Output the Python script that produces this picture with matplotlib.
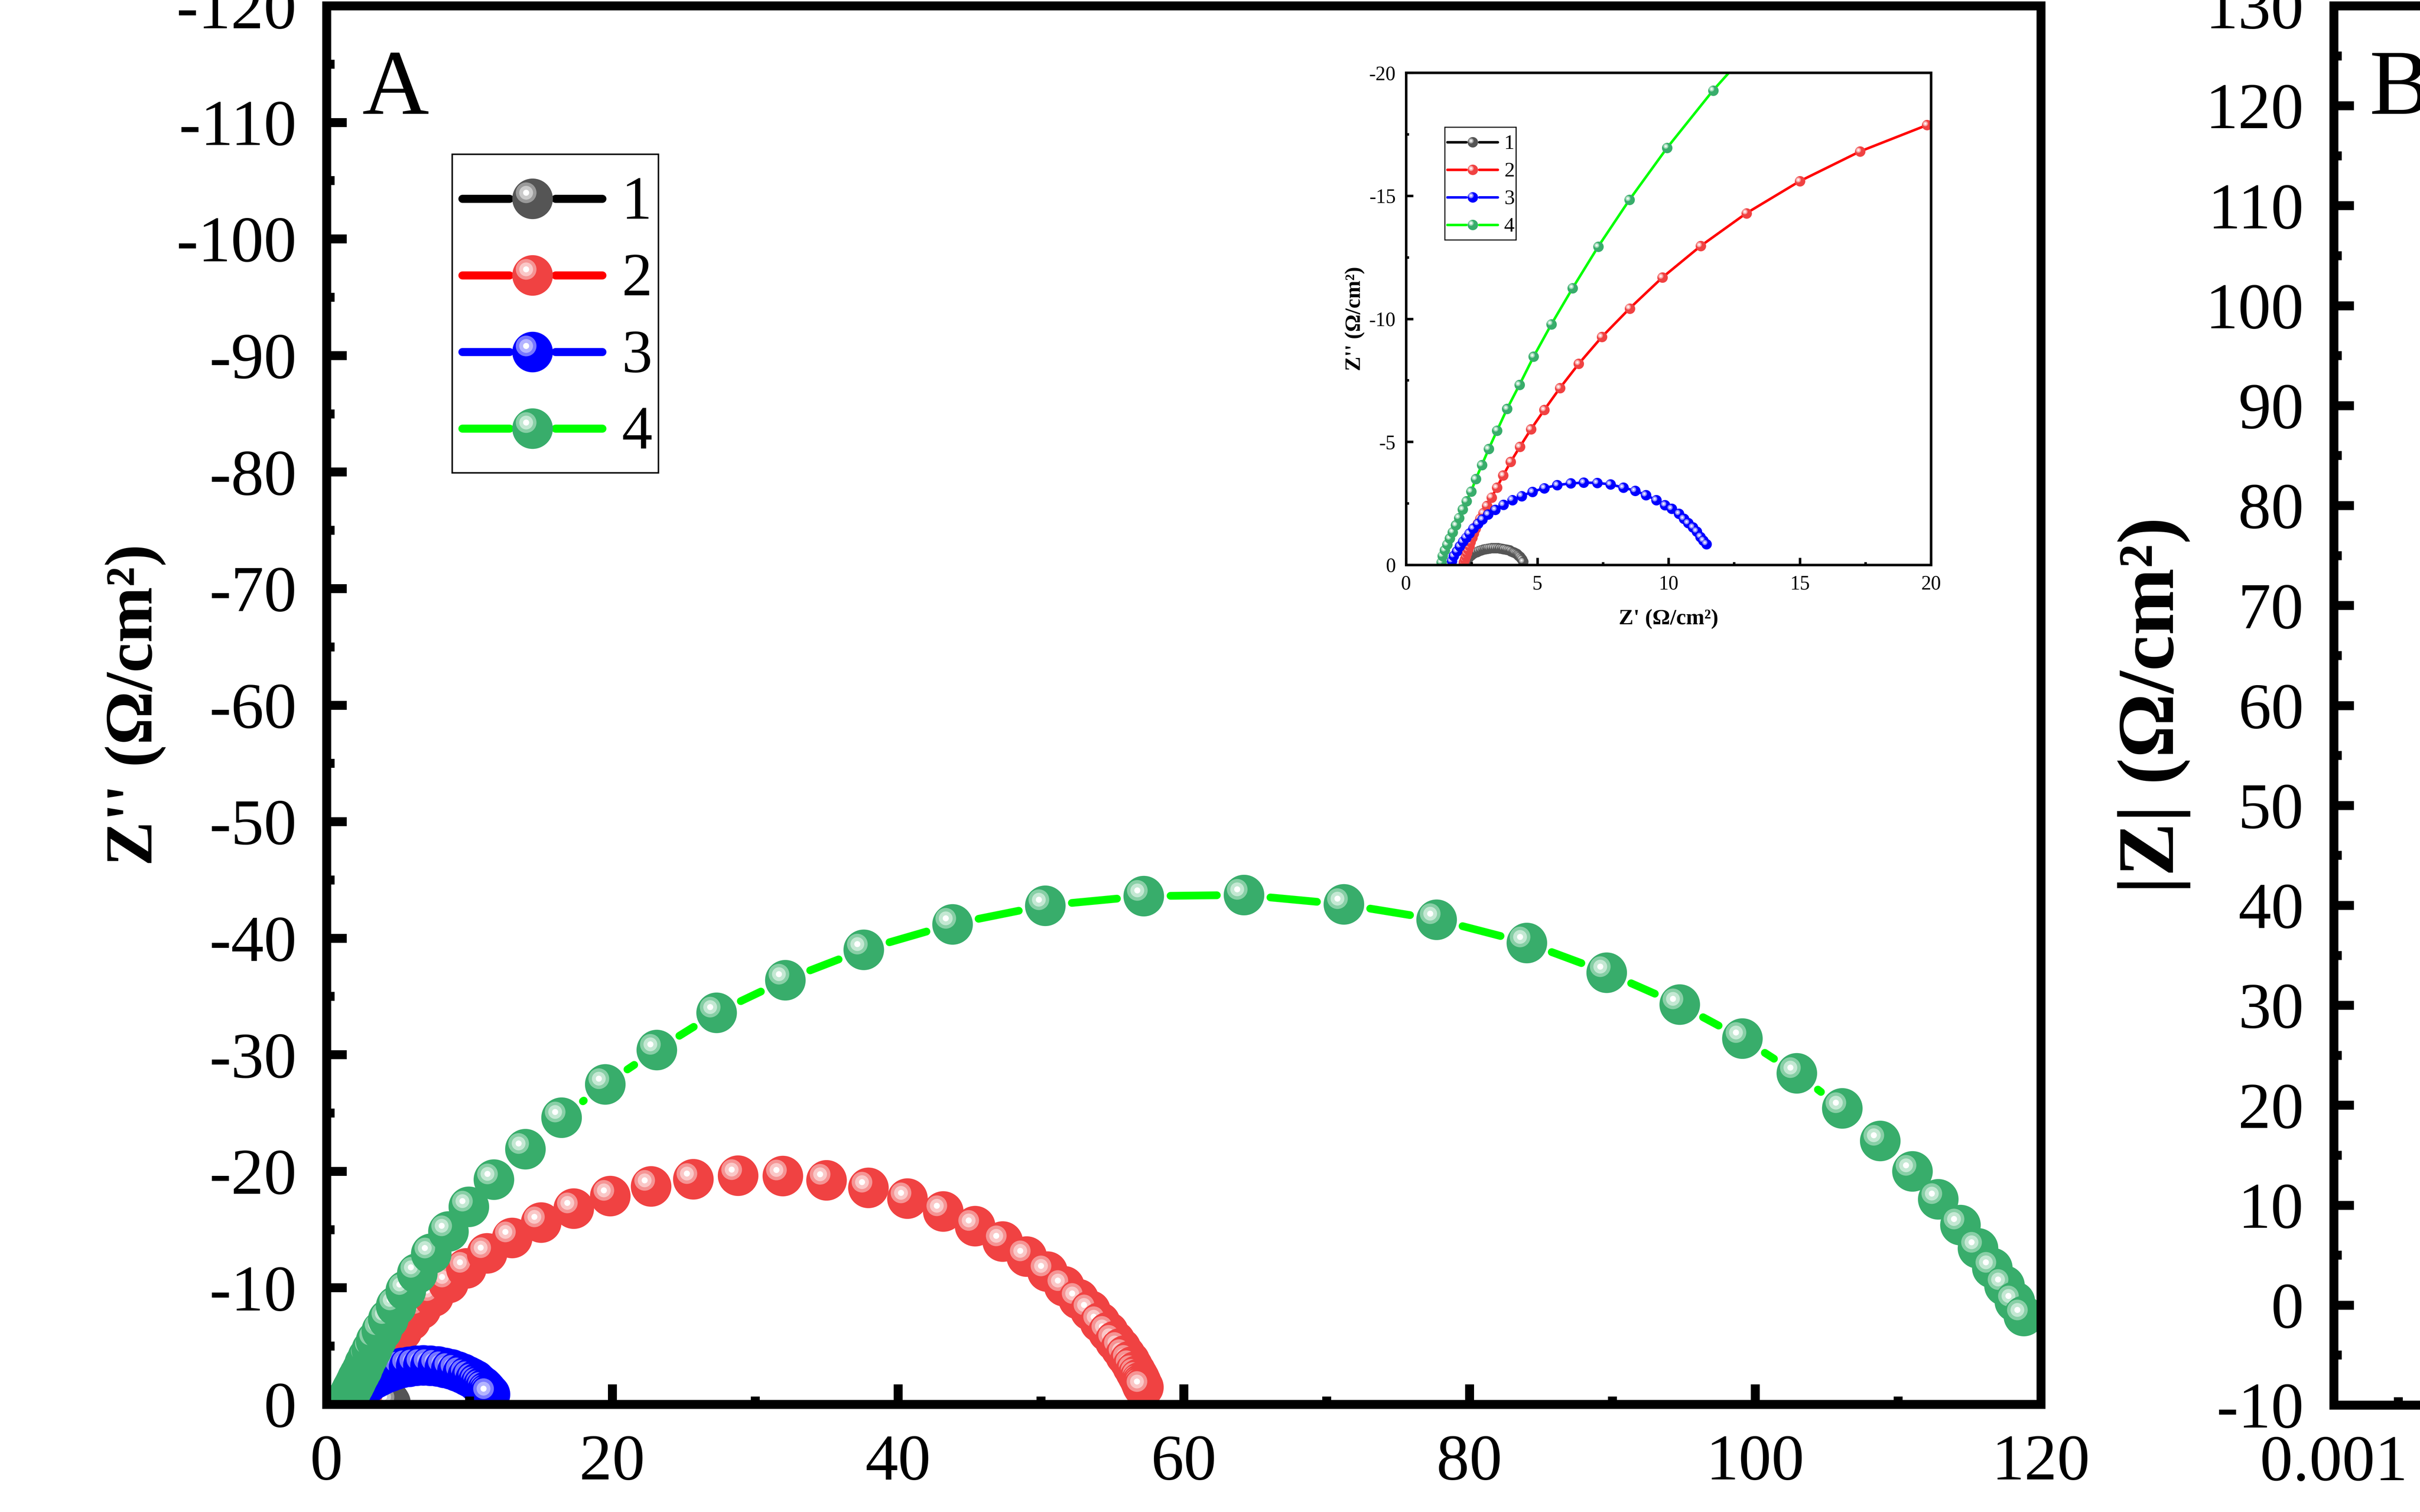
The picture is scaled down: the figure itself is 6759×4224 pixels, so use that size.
import numpy as np
import matplotlib
matplotlib.use('Agg')
import matplotlib.pyplot as plt
import matplotlib.transforms as mtransforms
from matplotlib.lines import Line2D
from matplotlib.legend_handler import HandlerBase
from matplotlib.ticker import MultipleLocator, FixedLocator, LogLocator, NullFormatter, FuncFormatter

plt.rcParams['font.family'] = 'Liberation Serif'
plt.rcParams['axes.unicode_minus'] = False

# Nyquist data, Z' and Z'' (ohm/cm2)
z_re_1 = [2.30, 2.36, 2.42, 2.48, 2.55, 2.62, 2.70, 2.78, 2.86, 2.94, 3.02, 3.10,
          3.18, 3.26, 3.34, 3.42, 3.50, 3.58, 3.66, 3.73, 3.80, 3.87, 3.94, 4.00,
          4.06, 4.11, 4.16, 4.21, 4.26, 4.30, 4.34, 4.38, 4.42, 4.46]
z_im_1 = [-0.13, -0.25, -0.33, -0.39, -0.45, -0.49, -0.53, -0.57, -0.60, -0.62, -0.64, -0.66,
          -0.67, -0.68, -0.68, -0.68, -0.68, -0.67, -0.66, -0.64, -0.63, -0.61, -0.59, -0.56,
          -0.53, -0.51, -0.48, -0.45, -0.41, -0.37, -0.33, -0.28, -0.22, -0.13]

z_re_2 = [2.20, 2.24, 2.28, 2.32, 2.36, 2.41, 2.46, 2.52, 2.58, 2.65, 2.73, 2.82,
          2.94, 3.08, 3.26, 3.46, 3.70, 3.99, 4.34, 4.76, 5.27, 5.86, 6.58, 7.46,
          8.52, 9.77, 11.23, 12.97, 15.0, 17.3, 19.85, 22.71, 25.66, 28.80, 31.93, 34.99,
          37.92, 40.65, 43.16, 45.39, 47.32, 49.00, 50.45, 51.63, 52.63, 53.46, 54.14, 54.71,
          55.19, 55.59, 55.92, 56.21, 56.42, 56.62, 56.77, 56.90, 56.98, 57.04, 57.10, 57.17]
z_im_2 = [-0.10, -0.22, -0.35, -0.48, -0.62, -0.77, -0.93, -1.10, -1.28, -1.47, -1.67, -1.87,
          -2.11, -2.40, -2.74, -3.14, -3.63, -4.19, -4.80, -5.51, -6.30, -7.18, -8.17, -9.26,
          -10.42, -11.68, -12.96, -14.29, -15.59, -16.80, -17.87, -18.72, -19.31, -19.64, -19.61, -19.24,
          -18.57, -17.65, -16.54, -15.29, -13.97, -12.68, -11.39, -10.13, -9.02, -8.04, -7.03, -6.20,
          -5.43, -4.82, -4.20, -3.71, -3.25, -2.82, -2.49, -2.22, -1.95, -1.78, -1.62, -1.47]

z_re_3 = [1.74, 1.82, 1.94, 2.05, 2.17, 2.29, 2.41, 2.56, 2.74, 2.91, 3.13, 3.40,
          3.71, 4.05, 4.40, 4.82, 5.27, 5.76, 6.27, 6.77, 7.28, 7.79, 8.28, 8.73,
          9.14, 9.53, 9.87, 10.12, 10.40, 10.58, 10.75, 10.93, 11.08, 11.22, 11.33, 11.44]
z_im_3 = [-0.16, -0.36, -0.55, -0.75, -0.94, -1.11, -1.28, -1.48, -1.67, -1.85, -2.05, -2.24,
          -2.44, -2.64, -2.80, -2.97, -3.12, -3.24, -3.31, -3.34, -3.33, -3.27, -3.14, -3.01,
          -2.84, -2.63, -2.43, -2.28, -2.08, -1.87, -1.70, -1.53, -1.36, -1.14, -0.99, -0.85]

z_re_4 = [1.35, 1.39, 1.48, 1.57, 1.67, 1.78, 1.90, 2.02, 2.16, 2.30, 2.48, 2.66,
          2.89, 3.15, 3.47, 3.85, 4.32, 4.86, 5.54, 6.35, 7.32, 8.51, 9.95, 11.70,
          13.9, 16.45, 19.5, 23.1, 27.3, 32.1, 37.6, 43.8, 50.3, 57.2, 64.2, 71.2,
          77.7, 84.0, 89.6, 94.7, 99.1, 102.9, 106.1, 108.75, 111.0, 112.8, 114.36, 115.6,
          116.6, 117.45, 118.17, 118.8]
z_im_4 = [-0.10, -0.37, -0.60, -0.83, -1.07, -1.33, -1.61, -1.91, -2.25, -2.59, -2.98, -3.49,
          -4.06, -4.71, -5.46, -6.34, -7.31, -8.46, -9.78, -11.25, -12.93, -14.83, -16.95, -19.28,
          -21.9, -24.6, -27.45, -30.4, -33.6, -36.4, -39.0, -41.2, -42.8, -43.6, -43.7, -42.9,
          -41.6, -39.6, -37.05, -34.3, -31.4, -28.4, -25.4, -22.6, -20.0, -17.6, -15.4, -13.4,
          -11.7, -10.2, -8.8, -7.6]

labels = ['1', '2', '3', '4']
line_colors = ['#000000', '#FF0000', '#0000FF', '#00FF00']
ball_colors = ['#555555', '#F04242', '#0000FF', '#38AD6B']
ring_colors = [('#9A9A9A', '#CACACA'), ('#F59494', '#FAC8C8'),
               ('#7878FF', '#B4B4FF'), ('#88CFA6', '#C4E8D3')]
series = [(z_re_1, z_im_1), (z_re_2, z_im_2), (z_re_3, z_im_3), (z_re_4, z_im_4)]

W, H, DPI = 6759, 4224, 600
fig = plt.figure(figsize=(W / DPI, H / DPI), dpi=DPI)
fig.patch.set_facecolor('white')


def px_box(x0, y0, x1, y1):
    return [x0 / W, 1 - y1 / H, (x1 - x0) / W, (y1 - y0) / H]


def ring_list(k):
    r1, r2 = ring_colors[k]
    return [(r1, 0.51), (r2, 0.34), ('#FFFFFF', 0.15)]


def draw_balls(a, x, y, k, ms, z0):
    # shaded sphere markers, drawn point by point so later points sit on top
    offs = mtransforms.offset_copy(a.transData, fig=fig, x=-0.16 * ms, y=0.145 * ms, units='points')
    for i, (xi, yi) in enumerate(zip(x, y)):
        z = z0 + 1 + i * 0.004
        a.plot([xi], [yi], 'o', ms=ms, mfc=ball_colors[k], mec='none', zorder=z)
        for j, (c, f) in enumerate(ring_list(k)):
            a.plot([xi], [yi], 'o', ms=ms * f, mfc=c, mec='none', transform=offs,
                   zorder=z + 0.001 * (j + 1))


def gapped(a, x, y, gap_pt):
    # line broken around each symbol (Origin style)
    pts = a.transData.transform(np.column_stack([x, y]))
    inv = a.transData.inverted()
    g = gap_pt * DPI / 72
    gx, gy = [], []
    for p, q in zip(pts[:-1], pts[1:]):
        d = q - p
        L = np.hypot(d[0], d[1])
        if L <= 2 * g:
            continue
        u = d / L
        s = inv.transform(np.array([p + u * g, q - u * g]))
        gx += [s[0, 0], s[1, 0], np.nan]
        gy += [s[0, 1], s[1, 1], np.nan]
    return gx, gy


class BallHandler(HandlerBase):
    def __init__(self, k, ms, lw, gap):
        super().__init__()
        self.k, self.ms, self.lw, self.gap = k, ms, lw, gap

    def create_artists(self, legend, orig_handle, xdescent, ydescent, width, height, fontsize, trans):
        x0 = -xdescent
        x1 = x0 + width
        cx = 0.5 * (x0 + x1)
        y = 0.33 * fontsize
        lc = line_colors[self.k]
        arts = [Line2D([x0 + self.lw / 2, cx - self.gap], [y, y], color=lc, lw=self.lw, solid_capstyle='round'),
                Line2D([cx + self.gap, x1 - self.lw / 2], [y, y], color=lc, lw=self.lw, solid_capstyle='round'),
                Line2D([cx], [y], marker='o', ms=self.ms, mfc=ball_colors[self.k], mec='none', ls='none')]
        for c, f in ring_list(self.k):
            arts.append(Line2D([cx - 0.16 * self.ms], [y + 0.145 * self.ms], marker='o', ms=self.ms * f,
                               mfc=c, mec='none', ls='none'))
        for art in arts:
            art.set_transform(trans)
        return arts


def style_axes(a, lw, maj, mino, lsize, pad):
    a.tick_params(which='both', direction='in', top=False, right=False, width=lw,
                  labelsize=lsize, pad=pad, colors='black')
    a.tick_params(which='major', length=maj)
    a.tick_params(which='minor', length=mino)
    for sp in a.spines.values():
        sp.set_linewidth(lw)
        sp.set_zorder(1000)
    a.xaxis.set_zorder(1000)
    a.yaxis.set_zorder(1000)


# panel A
ax = fig.add_axes(px_box(912, 16, 5700, 3923))
ax.set_xlim(0, 120)
ax.set_ylim(0, -120)
handles = []
for k, (xs, ys) in enumerate(series):
    gx, gy = gapped(ax, xs, ys, 9.0)
    ln, = ax.plot(gx, gy, color=line_colors[k], lw=2.6, zorder=10 * (k + 1), solid_capstyle='round')
    handles.append(ln)
    draw_balls(ax, xs, ys, k, 13.6, 10 * (k + 1))
ax.xaxis.set_major_locator(MultipleLocator(20))
ax.xaxis.set_minor_locator(MultipleLocator(10))
ax.yaxis.set_major_locator(MultipleLocator(10))
ax.yaxis.set_minor_locator(MultipleLocator(5))
style_axes(ax, 3, 6.7, 2.6, 22, 10)
ax.set_ylabel("Z'' (Ω/cm²)", fontsize=22.5, fontweight='bold', va='center')
ax.yaxis.set_label_coords(-0.1115, 0.5)

leg = ax.legend(handles, labels,
                handler_map={h: BallHandler(k, 13.6, 2.7, 7.7) for k, h in enumerate(handles)},
                loc='upper left', bbox_to_anchor=(1263 / W, 1 - 431 / H), bbox_transform=fig.transFigure,
                fontsize=20.5, frameon=True, fancybox=False, edgecolor='black', framealpha=1,
                handlelength=2.42, handleheight=1.55, handletextpad=0.25, labelspacing=0.0,
                borderpad=0.1, borderaxespad=0)
leg.get_frame().set_linewidth(0.5)
leg.set_zorder(2000)

# panel B (cut at the right edge)
axb = fig.add_axes(px_box(6518, 16, 6518 + 4784, 3925))
axb.set_xscale('log')
axb.set_xlim(1e-3, 1e5)
axb.set_ylim(-10, 130)
axb.xaxis.set_major_locator(FixedLocator([1e-3, 1e-2, 1e-1, 1, 10, 100, 1e3, 1e4, 1e5]))
axb.xaxis.set_major_formatter(FuncFormatter(lambda v, p: f'{v:g}'))
axb.xaxis.set_minor_locator(LogLocator(base=10, subs=range(2, 10)))
axb.xaxis.set_minor_formatter(NullFormatter())
axb.yaxis.set_major_locator(MultipleLocator(10))
axb.yaxis.set_minor_locator(MultipleLocator(5))
style_axes(axb, 3, 6.7, 2.6, 22, 10)
axb.set_ylabel("|Z| (Ω/cm²)", fontsize=27, fontweight='bold', va='center')
axb.yaxis.set_label_coords(-0.105, 0.5)

fig.text(1012 / W, 1 - 318 / H, 'A', fontsize=31, ha='left', va='baseline')
fig.text(6618 / W, 1 - 318 / H, 'B', fontsize=31, ha='left', va='baseline')

# inset: zoom of the high-frequency region
axin = fig.add_axes(px_box(3927, 203, 5393, 1578))
axin.set_facecolor('white')
ins_handles = []
for k, (xs, ys) in enumerate(series):
    ln, = axin.plot(xs, ys, color=line_colors[k], lw=0.85, zorder=10 * (k + 1))
    ins_handles.append(ln)
    draw_balls(axin, xs, ys, k, 3.5, 10 * (k + 1))
axin.set_xlim(0, 20)
axin.set_ylim(0, -20)
axin.xaxis.set_major_locator(MultipleLocator(5))
axin.xaxis.set_minor_locator(MultipleLocator(2.5))
axin.yaxis.set_major_locator(MultipleLocator(5))
axin.yaxis.set_minor_locator(MultipleLocator(2.5))
style_axes(axin, 0.85, 2.4, 1.0, 6.7, 3.4)
axin.set_ylabel("Z'' (Ω/cm²)", fontsize=7.3, fontweight='bold', va='center')
axin.yaxis.set_label_coords(-0.0975, 0.5)
axin.set_xlabel("Z' (Ω/cm²)", fontsize=7.4, fontweight='bold', va='center')
axin.xaxis.set_label_coords(0.5, -0.110)

leg2 = axin.legend(ins_handles, labels,
                   handler_map={h: BallHandler(k, 3.5, 0.85, 2.2) for k, h in enumerate(ins_handles)},
                   loc='upper left', bbox_to_anchor=(4035 / W, 1 - 355 / H), bbox_transform=fig.transFigure,
                   fontsize=7, frameon=True, fancybox=False, edgecolor='black', framealpha=1,
                   handlelength=2.54, handleheight=1.65, handletextpad=0.24, labelspacing=0.0,
                   borderpad=0.065, borderaxespad=0)
leg2.get_frame().set_linewidth(0.35)
leg2.set_zorder(2000)

fig.savefig('out.png', dpi=DPI)
